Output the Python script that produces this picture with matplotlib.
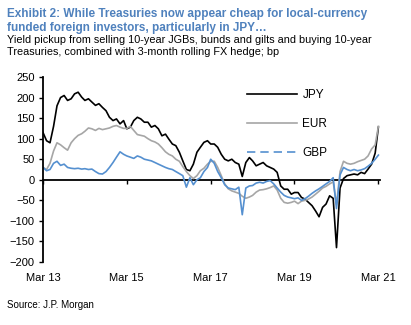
import matplotlib
matplotlib.use("Agg")
import matplotlib.pyplot as plt
from matplotlib.lines import Line2D
import pandas as pd

plt.rcParams['font.family'] = ['Liberation Sans', 'DejaVu Sans']

# monthly readings, Mar 2013 .. Mar 2021 (bp)
dates = pd.date_range('2013-03-01', periods=97, freq='MS')

jpy = [115, 95, 90, 130, 180, 200, 205, 193, 197, 209, 213, 201, 193, 197, 189, 181,
       185, 176, 168, 152, 144, 148, 136, 144, 124,
       128, 144, 152, 148, 140, 140, 128, 132, 124, 107, 111, 99, 87, 83, 67, 46, 25,
       22, 38, 67, 79, 91, 95, 87,
       87, 79, 62, 50, 46, 50, 42, 38, 8, 42, 54, 46, 34, 38, 42, 34, 30, 26, 18, -15,
       -23, -23, -35, -31,
       -31, -43, -47, -55, -63, -76, -90, -67, -59, -39, -45, -165, -20, 3, 10, 12, 14,
       12, 18, 15, 26, 38, 65, 128]

eur = [30, 25, 40, 70, 90, 85, 78, 72, 90, 100, 108, 112, 118, 126, 124, 120, 125,
       122, 124, 126, 130, 132, 128, 125, 125,
       130, 120, 110, 108, 106, 100, 95, 92, 87, 78, 68, 62, 58, 50, 45, 32, 20, 10, 3,
       10, 22, 28, 38, 45,
       45, 30, 10, -10, -22, -27, -30, -33, -40, -45, -42, -38, -30, -25, -24, -22, -19,
       -15, -25, -45, -55, -57, -55, -52,
       -58, -52, -50, -47, -42, -35, -28, -20, -16, -10, -5, -60, 20, 45, 40, 38, 40, 44,
       47, 50, 58, 75, 85, 130]

gbp = [30, 22, 25, 40, 45, 35, 38, 30, 28, 27, 28, 26, 27, 25, 26, 20, 15, 14, 20, 30,
       42, 55, 68, 62, 58,
       55, 52, 58, 55, 50, 48, 46, 42, 38, 34, 30, 27, 25, 20, 15, 10, -18, 5, -12, 0, 5,
       20, 30, 50,
       40, 20, 5, -12, -20, -22, -24, -18, -85, -20, -15, -14, -8, -6, -8, -4, -2, -10,
       -20, -30, -38, -42, -44, -46,
       -44, -50, -46, -40, -33, -27, -22, -16, -10, -4, 5, -70, 12, 30, 25, 22, 25, 22,
       24, 27, 33, 40, 50, 60]

tick_dates = pd.to_datetime(['2013-03-01', '2015-03-01', '2017-03-01',
                             '2019-03-01', '2021-03-01'])
tick_labels = ['Mar 13', 'Mar 15', 'Mar 17', 'Mar 19', 'Mar 21']
yticks = list(range(-200, 251, 50))

C_JPY = 'black'
C_EUR = '#a6a6a6'
C_GBP = '#5590d0'
C_TITLE = '#4f81bd'

fig = plt.figure(figsize=(4.11, 3.25), dpi=100)
ax = fig.add_axes([43/411, 63/325, 337/411, 185/325])

ax.plot(dates, jpy, color=C_JPY, lw=1.2)
ax.plot(dates, eur, color=C_EUR, lw=1.2)
ax.plot(dates, gbp, color=C_GBP, lw=1.2)

ymin, ymax = -200, 250
ax.set_ylim(ymin, ymax)
ax.set_xlim(pd.Timestamp('2013-03-01'), pd.Timestamp('2021-03-15'))
ax.set_yticks(yticks)
ax.tick_params(axis='y', direction='out', length=3, width=1, labelsize=8, pad=3)
ax.set_xticks(tick_dates)
ax.set_xticklabels(tick_labels)
ax.tick_params(axis='x', length=0, labelsize=8, pad=8)

for s in ['top', 'right', 'bottom']:
    ax.spines[s].set_visible(False)
ax.spines['left'].set_linewidth(1.3)

# zero line carrying the date ticks
sec = ax.secondary_xaxis((0 - ymin) / (ymax - ymin))
sec.set_xticks(tick_dates)
sec.set_xticklabels([])
sec.tick_params(direction='out', length=3, width=1)
sec.spines['bottom'].set_linewidth(1.3)

handles = [Line2D([], [], color=C_JPY, lw=1.2),
           Line2D([], [], color=C_EUR, lw=1.2),
           Line2D([], [], color=C_GBP, lw=1.2, ls=(0, (5, 3)))]
fig.legend(handles, ['JPY', 'EUR', 'GBP'], loc='upper left',
           bbox_to_anchor=(247/411, 1 - 89/325), frameon=False, fontsize=8.5,
           handlelength=4.2, handletextpad=0.5, labelspacing=1.45, borderpad=0,
           borderaxespad=0)

fig.text(7/411, 1 - 17/325, 'Exhibit 2: While Treasuries now appear cheap for local-currency',
         color=C_TITLE, fontsize=8.5, fontweight='bold', va='baseline')
fig.text(7/411, 1 - 31/325, 'funded foreign investors, particularly in JPY\u2026',
         color=C_TITLE, fontsize=8.5, fontweight='bold', va='baseline')
fig.text(7/411, 1 - 43/325,
         'Yield pickup from selling 10-year JGBs, bunds and gilts and buying 10-year',
         fontsize=7.8, va='baseline')
fig.text(7/411, 1 - 55/325, 'Treasuries, combined with 3-month rolling FX hedge; bp',
         fontsize=7.8, va='baseline')
fig.text(7/411, 1 - 308/325, 'Source: J.P. Morgan', fontsize=7, va='baseline')

fig.savefig('out.png', dpi=100)
